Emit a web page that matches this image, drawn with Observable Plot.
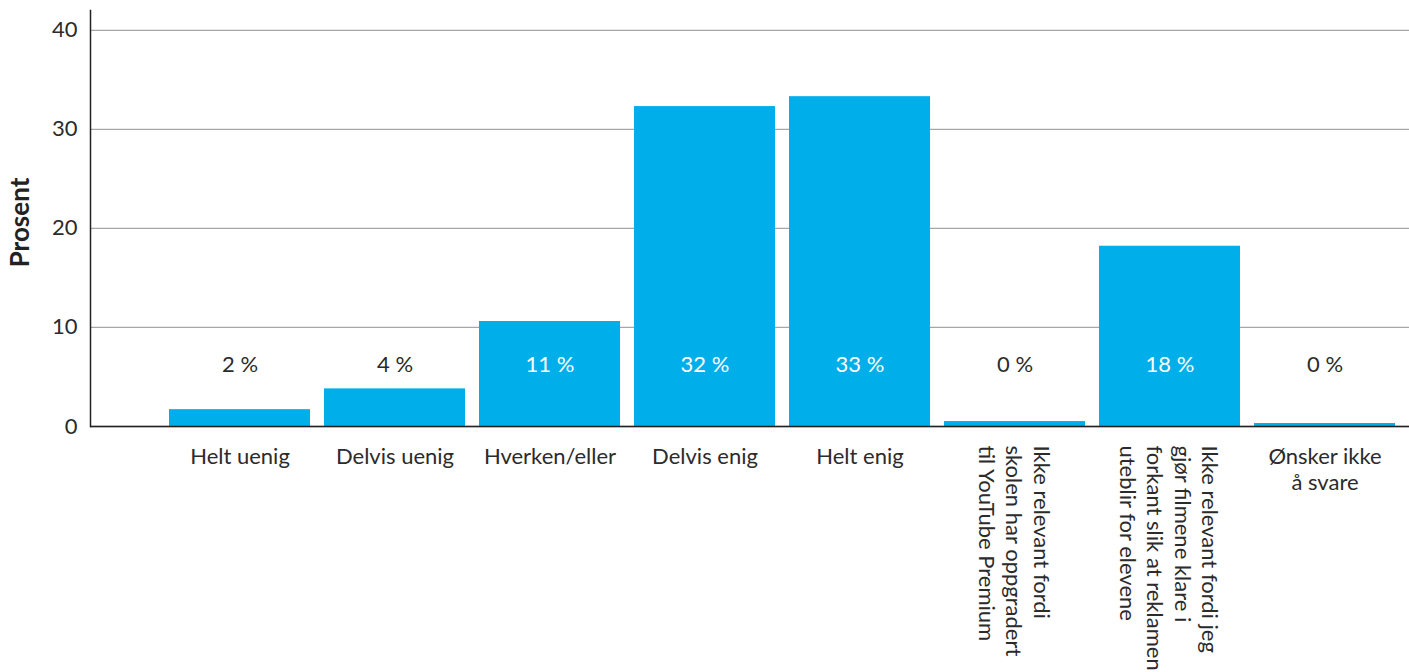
<!DOCTYPE html>
<html><head><meta charset="utf-8">
<script src="https://cdn.jsdelivr.net/npm/d3@7"></script>
<script src="https://cdn.jsdelivr.net/npm/@observablehq/plot@0.6"></script>
<style>body{margin:0;background:#fff} svg{display:block}</style>
</head><body><div id="chart"></div>
<script>
const categories = ["Helt uenig","Delvis uenig","Hverken/eller","Delvis enig","Helt enig","Ikke relevant (YouTube Premium)","Ikke relevant (filmene klare)","Ønsker ikke å svare"];
const tickLabels = ["Helt uenig","Delvis uenig","Hverken/eller","Delvis enig","Helt enig",
  "Ikke relevant fordi\nskolen har oppgradert\ntil YouTube Premium",
  "Ikke relevant fordi jeg\ngjør filmene klare i\nforkant slik at reklamen\nuteblir for elevene",
  "Ønsker ikke\nå svare"];
const rotatedTick = [false,false,false,false,false,true,true,false];
const values = [1.7,3.8,10.6,32.3,33.3,0.5,18.2,0.3];
const valueLabels = ["2 %","4 %","11 %","32 %","33 %","0 %","18 %","0 %"];
const yTicks = [0,10,20,30,40];

const data = categories.map((c,i)=>({cat:c, value:values[i], label:valueLabels[i], tick:tickLabels[i], rotated:rotatedTick[i]}));

const chart = Plot.plot({
  width:1409, height:672,
  marginLeft:90, marginRight:0, marginTop:10, marginBottom:246,
  style:{fontFamily:"Lato", fontSize:"22px", color:"#2b2b2b", background:"#fff"},
  x:{domain:categories, paddingInner:0.088, paddingOuter:0.044, insetLeft:69.5, insetRight:4.2, axis:null},
  y:{domain:[0,42], axis:null},
  marks:[
    Plot.gridY(yTicks, {stroke:"#a6a6a6", strokeOpacity:1, strokeWidth:1.3}),
    Plot.axisY(yTicks, {tickSize:0, tickPadding:13, fontSize:22, fill:"#2b2b2b", label:null}),
    Plot.barY(data, {x:"cat", y:"value", fill:"#00aee9"}),
    Plot.ruleY([0], {stroke:"#222", strokeWidth:1.5}),
    Plot.frame({anchor:"left", stroke:"#222", strokeWidth:1.5}),
    Plot.text(data, {filter:d=>d.value>7, x:"cat", y:0, dy:-62, text:"label", fill:"white", fontSize:22}),
    Plot.text(data, {filter:d=>d.value<=7, x:"cat", y:0, dy:-62, text:"label", fill:"#2b2b2b", fontSize:22}),
    Plot.text(data, {filter:d=>!d.rotated, x:"cat", y:0, dy:20, text:"tick", lineAnchor:"top", lineHeight:1.15, fill:"#2b2b2b", fontSize:22}),
    Plot.text(data, {filter:d=>d.rotated, x:"cat", y:0, dy:19, text:"tick", rotate:90, textAnchor:"start", lineAnchor:"middle", lineHeight:1.25, fill:"#2b2b2b", fontSize:22}),
    Plot.text(["Prosent"], {frameAnchor:"left", textAnchor:"middle", dx:-70, dy:4, rotate:-90, fontWeight:"bold", fontSize:26, fill:"#222"})
  ]
});
document.getElementById("chart").appendChild(chart);
</script>
</body></html>
